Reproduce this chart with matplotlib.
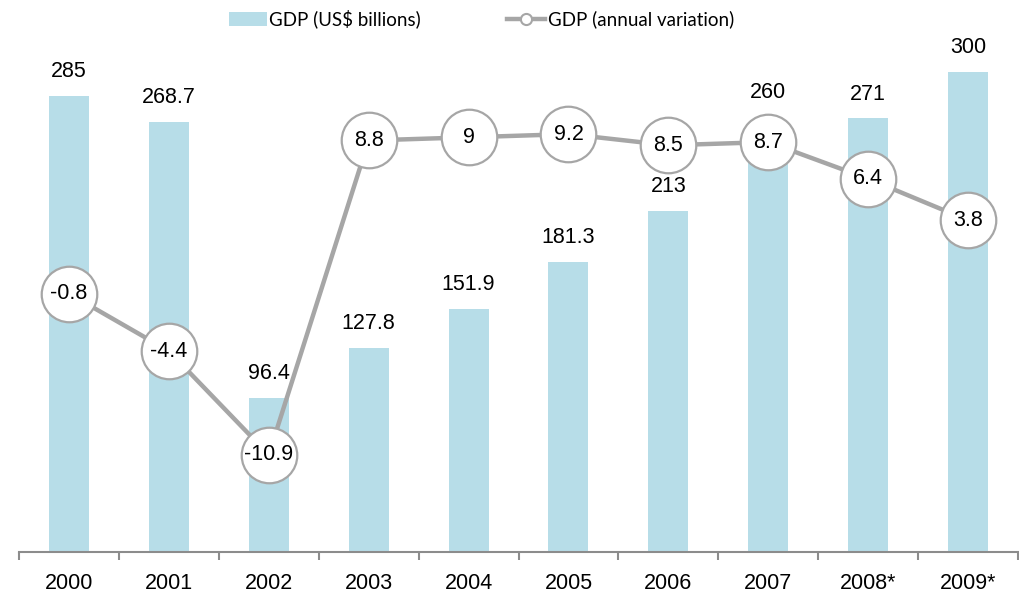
import matplotlib.pyplot as plt
from matplotlib.lines import Line2D
from matplotlib.patches import Patch

# DATA ##########################################

years = ['2000', '2001', '2002', '2003', '2004', '2005', '2006', '2007', '2008*', '2009*']
gdp_bn = [285, 268.7, 96.4, 127.8, 151.9, 181.3, 213, 260, 271, 300]
gdp_var = [-0.8, -4.4, -10.9, 8.8, 9, 9.2, 8.5, 8.7, 6.4, 3.8]

bar_color = '#b7dde8'
line_color = '#a6a6a6'

plt.rcParams['font.family'] = ['Liberation Sans', 'DejaVu Sans']

# FIGURE ########################################

fig = plt.figure(figsize=(10.2, 5.95), dpi=100)
ax = fig.add_axes([19/1020, 43/595, 999/1020, 512/595])
ax2 = ax.twinx()

x = list(range(len(years)))

ax.bar(x, gdp_bn, width=0.4, color=bar_color, zorder=1)
for xi, v in zip(x, gdp_bn):
    # 2007 label sits above the line marker in the original
    dy = 24 if years[xi] == '2007' else 10
    ax.annotate(f'{v:g}', (xi, v), xytext=(0, dy), textcoords='offset points',
                ha='center', va='bottom', fontsize=15.5, color='black')

ax.set_xlim(-0.5, len(years) - 0.5)
ax.set_ylim(0, 320)

ax2.plot(x, gdp_var, color=line_color, linewidth=3.2, marker='o',
         markersize=40, markerfacecolor='white', markeredgecolor=line_color,
         markeredgewidth=1.6, zorder=3)
for xi, v in zip(x, gdp_var):
    ax2.text(xi, v, f'{v:g}', ha='center', va='center', fontsize=15.5,
             color='black', zorder=4)
ax2.set_ylim(-17.0, 15.1)

# AXES STYLE ####################################

for a in (ax, ax2):
    for side in ('top', 'right', 'left'):
        a.spines[side].set_visible(False)
    a.set_yticks([])
ax2.spines['bottom'].set_visible(False)
ax.spines['bottom'].set_color('#8c8c8c')
ax.spines['bottom'].set_linewidth(1.5)

ax.set_xticks(x)
ax.set_xticklabels(years, fontsize=15.5)
ax.tick_params(axis='x', which='major', length=0, pad=15)
ax.set_xticks([i - 0.5 for i in range(len(years) + 1)], minor=True)
ax.tick_params(axis='x', which='minor', length=6, width=1.5, color='#8c8c8c',
               direction='out')

# LEGEND ########################################

handles = [
    Patch(facecolor=bar_color, edgecolor='none', label='GDP (US$ billions)'),
    Line2D([0], [0], color=line_color, linewidth=3.2, marker='o', markersize=8,
           markerfacecolor='white', markeredgecolor=line_color,
           markeredgewidth=1.5, label='GDP (annual variation)'),
]
fig.legend(handles=handles, loc='upper center', bbox_to_anchor=(0.472, 1.012),
           ncol=2, frameon=False, columnspacing=4.6, handlelength=2.0,
           handletextpad=0.15, prop={'family': 'Lato', 'size': 13.5})

plt.savefig('out.png', dpi=100)
